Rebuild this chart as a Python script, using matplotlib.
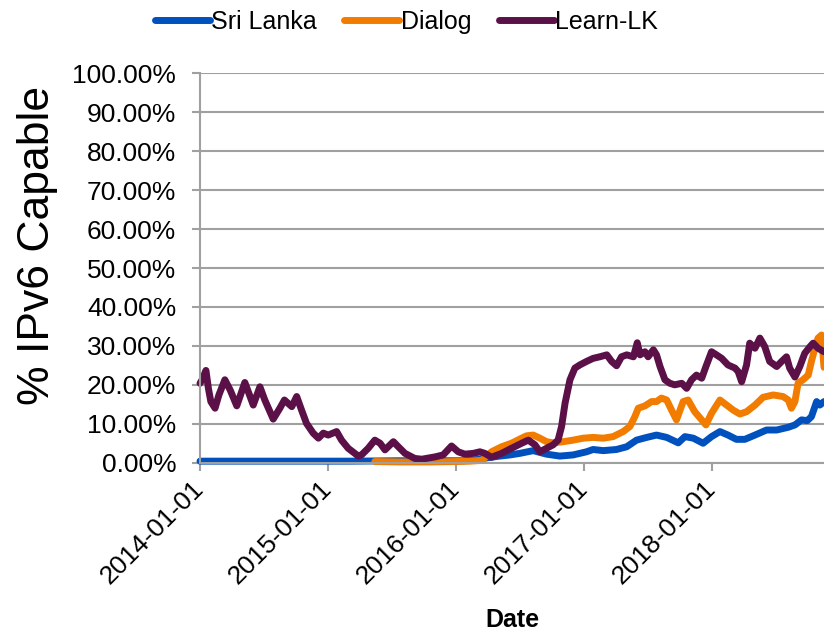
import matplotlib
matplotlib.use("Agg")
import matplotlib.pyplot as plt
import matplotlib.dates as mdates
from matplotlib.ticker import FuncFormatter, MultipleLocator
import pandas as pd

# Werte (Prozent)
srilanka_dates = [
    "2014-01-01", "2014-05-24", "2014-10-13", "2015-03-05", "2015-07-25",
    "2015-11-17", "2016-01-27", "2016-03-01", "2016-04-02", "2016-05-06",
    "2016-06-04", "2016-07-02", "2016-08-09", "2016-09-16", "2016-10-24",
    "2016-12-01", "2017-01-08", "2017-01-27", "2017-02-25", "2017-04-04",
    "2017-05-03", "2017-05-31", "2017-06-29", "2017-07-27", "2017-08-25",
    "2017-09-27", "2017-10-16", "2017-11-09", "2017-12-07", "2017-12-31",
    "2018-01-24", "2018-02-16", "2018-03-12", "2018-04-05", "2018-05-04",
    "2018-06-06", "2018-07-05", "2018-08-07", "2018-08-26", "2018-09-14",
    "2018-09-30", "2018-10-12", "2018-10-27", "2018-11-05", "2018-11-17",
]
srilanka_values = [
    0.4, 0.4, 0.4, 0.4, 0.5,
    0.5, 0.5, 0.8, 1.3, 1.7,
    2.0, 2.4, 3.1, 2.2, 1.7,
    2.0, 2.8, 3.4, 3.1, 3.4,
    4.1, 5.8, 6.5, 7.1, 6.5,
    5.1, 6.7, 6.3, 5.0, 6.7,
    8.0, 7.1, 6.0, 6.0, 7.1,
    8.4, 8.4, 9.1, 9.7, 11.0,
    10.8, 11.8, 15.7, 14.8, 15.7,
]

dialog_dates = [
    "2015-05-15", "2015-07-25", "2015-10-19", "2015-12-30", "2016-02-10",
    "2016-03-15", "2016-03-27", "2016-04-12", "2016-05-11", "2016-06-08",
    "2016-07-07", "2016-07-21", "2016-08-09", "2016-08-28", "2016-09-16",
    "2016-10-05", "2016-11-03", "2016-12-01", "2016-12-30", "2017-01-27",
    "2017-02-25", "2017-03-25", "2017-04-23", "2017-05-12", "2017-05-26",
    "2017-06-05", "2017-06-24", "2017-07-13", "2017-07-27", "2017-08-10",
    "2017-08-25", "2017-09-08", "2017-09-22", "2017-10-11", "2017-10-25",
    "2017-11-13", "2017-12-03", "2017-12-15", "2017-12-31", "2018-01-24",
    "2018-02-12", "2018-03-03", "2018-03-22", "2018-04-10", "2018-05-04",
    "2018-05-27", "2018-06-25", "2018-07-23", "2018-08-07", "2018-08-16",
    "2018-08-26", "2018-09-04", "2018-09-18", "2018-10-03", "2018-10-12",
    "2018-10-22", "2018-10-31", "2018-11-10", "2018-11-17",
]
dialog_values = [
    0.3, 0.2, 0.2, 0.3, 0.4,
    0.6, 1.5, 2.8, 4.1, 5.0,
    6.3, 6.9, 7.1, 6.3, 5.4,
    5.1, 5.4, 5.8, 6.3, 6.5,
    6.3, 6.7, 8.0, 9.3, 11.8,
    14.0, 14.6, 15.7, 15.7, 16.6,
    16.1, 13.5, 11.0, 15.7, 16.1,
    13.1, 11.0, 9.7, 12.7, 16.1,
    14.8, 13.5, 12.5, 13.1, 14.8,
    16.8, 17.4, 17.0, 16.1, 14.0,
    15.7, 20.4, 21.3, 22.5, 26.0,
    29.4, 32.0, 32.8, 24.5,
]

learnlk_dates = [
    "2014-01-01", "2014-01-07", "2014-01-18", "2014-01-25", "2014-02-01",
    "2014-02-13", "2014-02-24", "2014-03-13", "2014-03-28", "2014-04-16",
    "2014-05-09", "2014-05-24", "2014-06-02", "2014-06-21", "2014-07-05",
    "2014-07-29", "2014-08-17", "2014-08-30", "2014-09-20", "2014-10-04",
    "2014-10-18", "2014-11-01", "2014-11-20", "2014-12-05", "2014-12-19",
    "2015-01-02", "2015-01-26", "2015-02-09", "2015-02-28", "2015-03-29",
    "2015-04-07", "2015-04-26", "2015-05-15", "2015-05-30", "2015-06-13",
    "2015-07-07", "2015-07-21", "2015-08-09", "2015-09-06", "2015-09-26",
    "2015-11-03", "2015-11-26", "2015-12-20", "2016-01-08", "2016-01-27",
    "2016-02-20", "2016-03-10", "2016-03-24", "2016-04-12", "2016-05-11",
    "2016-06-08", "2016-07-07", "2016-07-26", "2016-08-14", "2016-08-28",
    "2016-09-16", "2016-10-05", "2016-10-19", "2016-10-29", "2016-11-08",
    "2016-11-22", "2016-12-06", "2016-12-20", "2017-01-08", "2017-01-27",
    "2017-02-15", "2017-03-07", "2017-03-21", "2017-04-04", "2017-04-18",
    "2017-05-03", "2017-05-22", "2017-06-02", "2017-06-10", "2017-06-24",
    "2017-07-03", "2017-07-18", "2017-07-27", "2017-08-06", "2017-08-20",
    "2017-09-03", "2017-09-17", "2017-10-07", "2017-10-21", "2017-11-04",
    "2017-11-18", "2017-12-03", "2017-12-15", "2017-12-31", "2018-01-14",
    "2018-01-29", "2018-02-16", "2018-03-08", "2018-03-17", "2018-03-27",
    "2018-04-10", "2018-04-19", "2018-05-04", "2018-05-18", "2018-06-01",
    "2018-06-15", "2018-07-05", "2018-07-19", "2018-08-02", "2018-08-11",
    "2018-08-26", "2018-09-09", "2018-09-23", "2018-10-08", "2018-10-17",
    "2018-10-31", "2018-11-17",
]
learnlk_values = [
    20.4, 21.3, 23.7, 19.1, 15.7,
    14.0, 17.4, 21.3, 18.7, 14.6,
    20.6, 17.0, 14.8, 19.5, 16.1,
    11.2, 14.0, 16.1, 14.4, 17.0,
    13.5, 10.1, 7.6, 6.3, 7.6,
    7.1, 8.0, 5.8, 3.7, 1.7,
    2.0, 3.7, 5.8, 5.0, 3.3,
    5.4, 4.1, 2.4, 1.1, 0.9,
    1.5, 2.0, 4.3, 2.8, 2.2,
    2.4, 2.8, 2.4, 1.4, 2.4,
    3.7, 5.0, 5.8, 4.6, 2.8,
    3.7, 4.6, 5.8, 9.3, 15.3,
    21.3, 24.3, 25.1, 26.0, 26.8,
    27.2, 27.7, 26.0, 24.9, 27.2,
    27.7, 27.2, 30.8, 27.7, 28.5,
    27.2, 29.0, 27.7, 24.7, 21.3,
    20.4, 20.0, 20.4, 19.1, 21.3,
    22.5, 21.7, 24.7, 28.5, 27.7,
    26.8, 25.1, 24.3, 23.4, 20.8,
    25.1, 30.7, 29.4, 32.0, 29.8,
    26.0, 24.7, 26.0, 27.2, 24.3,
    22.0, 24.7, 28.1, 29.8, 30.7,
    29.4, 28.5,
]

series = [
    ("Sri Lanka", srilanka_dates, srilanka_values, "#0050BE"),
    ("Dialog", dialog_dates, dialog_values, "#F27C00"),
    ("Learn-LK", learnlk_dates, learnlk_values, "#5B1148"),
]

plt.rcParams["font.family"] = ["Liberation Sans", "DejaVu Sans"]

fig = plt.figure(figsize=(8.24, 6.31), dpi=100)
ax = fig.add_axes([0.2427, 0.2667, 0.7573, 0.6171])

for name, d, v, c in series:
    ax.plot(pd.to_datetime(d), v, color=c, lw=5, label=name,
            solid_joinstyle="round", solid_capstyle="round", clip_on=False)

ax.set_xlim(pd.Timestamp("2014-01-01"), pd.Timestamp("2018-11-17"))
ax.set_ylim(0, 100)
ax.yaxis.set_major_locator(MultipleLocator(10))
ax.yaxis.set_major_formatter(FuncFormatter(lambda v, p: f"{v:.2f}%"))
ax.xaxis.set_major_locator(mdates.YearLocator())
ax.xaxis.set_major_formatter(mdates.DateFormatter("%Y-%m-%d"))

grey = "#A0A0A0"
ax.grid(axis="y", color=grey, lw=1.5)
ax.set_axisbelow(True)
for s in ["top", "right"]:
    ax.spines[s].set_visible(False)
for s in ["left", "bottom"]:
    ax.spines[s].set_color(grey)
    ax.spines[s].set_linewidth(1.5)

ax.tick_params(axis="y", labelsize=19, length=6, width=1.5, color=grey, pad=11)
ax.tick_params(axis="x", labelsize=19, length=6, width=1.5, color=grey, pad=10)
for lbl in ax.get_xticklabels():
    lbl.set_rotation(45)
    lbl.set_ha("right")
    lbl.set_va("center")
    lbl.set_rotation_mode("anchor")

fig.text(38 / 824, 1 - 245 / 631, "% IPv6 Capable", rotation=90,
         ha="center", va="center", fontsize=32)
fig.text(512 / 824, 1 - 620 / 631, "Date", ha="center", va="center",
         fontsize=18, fontweight="bold")

leg = fig.legend(loc="upper center", bbox_to_anchor=(0.493, 1.02), ncol=3,
                 frameon=False, fontsize=18, handlelength=2.2,
                 handletextpad=0.05, columnspacing=1.1)
for h in leg.get_lines():
    h.set_linewidth(5)

fig.savefig("out.png", dpi=100)
